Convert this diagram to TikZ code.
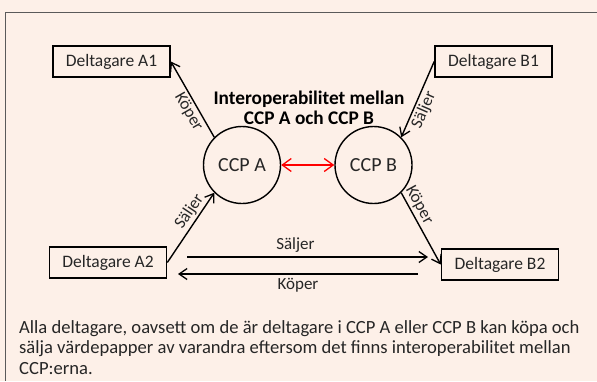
\documentclass[tikz,border=0pt]{standalone}
\usepackage{fontspec}
\setmainfont{Carlito}
\usetikzlibrary{arrows.meta}
\definecolor{bg}{HTML}{FDF0E8}
\definecolor{txt}{HTML}{262626}
\definecolor{frame}{HTML}{5A5A5A}
\begin{document}
\begin{tikzpicture}[x=1pt,y=-1pt,
  box/.style={draw=black,line width=1.6pt,minimum width=117pt,minimum height=31pt,inner sep=0pt,
    text=txt,font=\fontsize{17.5}{19}\selectfont},
  ccp/.style={draw=black,line width=1.4pt,circle,minimum size=77pt,inner sep=0pt,
    text=txt,font=\fontsize{20}{22}\selectfont},
  arr/.style={line width=1.4pt,-{Straight Barb[length=8pt,width=11pt,line width=1.3pt]}},
  lab/.style={text=txt,font=\fontsize{17}{20}\selectfont,inner sep=2pt}]
\fill[bg] (0,0) rectangle (597,381);
\useasboundingbox (0,0) rectangle (597,381);
\draw[frame,line width=1.2pt] (597,12.5) -- (5.5,12.5) -- (5.5,381);

\node[box] (A1) at (111.5,61.5) {Deltagare A1};
\node[box] (B1) at (493.5,61.5) {Deltagare B1};
\node[box] (A2) at (108,262.5) {Deltagare A2};
\node[box] (B2) at (500,264.5) {Deltagare B2};

\node[ccp] (A) at (242,165) {CCP A};
\node[ccp] (B) at (373.5,165) {CCP B};

\node[font=\bfseries\fontsize{19.3}{19.5}\selectfont,align=center,inner sep=0pt] (T) at (309,108)
  {Interoperabilitet mellan\\CCP A och CCP B};

\draw[arr,red,{Straight Barb[length=9pt,width=13pt,line width=1.3pt]}-{Straight Barb[length=9pt,width=13pt,line width=1.3pt]}] (A.east) -- (B.west);

\draw[arr] (A.135) -- node[lab,sloped,below,pos=0.4] {Köper} (A1.east);
\draw[arr] (B1.west) -- node[lab,sloped,below,pos=0.59] {Säljer} (B.45);
\draw[arr] (A2.east) -- node[lab,sloped,above,pos=0.65] {Säljer} (A.225);
\draw[arr] (B.315) -- node[lab,sloped,above,pos=0.24] {Köper} (B2.west);

\coordinate (s1) at (187,257);
\coordinate (s2) at (428,257);
\coordinate (k1) at (418,274);
\coordinate (k2) at (178,274);
\draw[arr] (s1) -- node[lab,above,pos=0.45,inner sep=4pt] {Säljer} (s2);
\draw[arr] (k1) -- node[lab,below,pos=0.5,inner sep=4pt] {Köper} (k2);

\node[anchor=north west,inner sep=0pt,align=left,text=txt,font=\fontsize{18.6}{20.5}\selectfont] (txt) at (19,320)
  {Alla deltagare, oavsett om de är deltagare i CCP A eller CCP B kan köpa och\\
   sälja värdepapper av varandra eftersom det finns interoperabilitet mellan\\
   CCP:erna.};
\end{tikzpicture}
\end{document}
